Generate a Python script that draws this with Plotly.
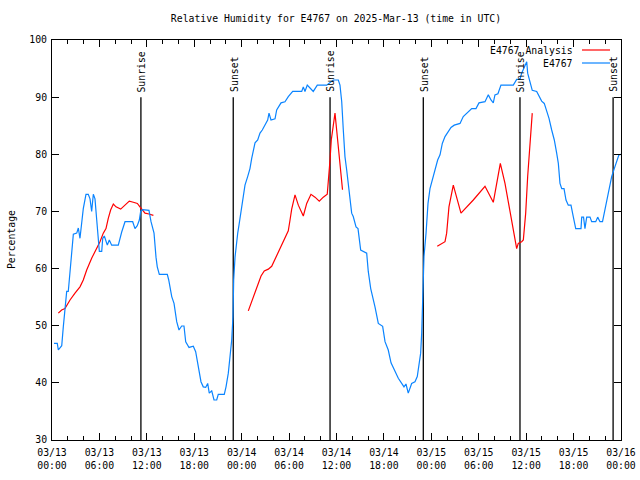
import pandas as pd
import plotly.graph_objects as go

BASE = pd.Timestamp("2025-03-13 00:00")

# Observed relative humidity (hours after 2025-03-13 00:00 UTC, percent)
obs_hours = [0.25, 0.67, 0.80, 1.23, 1.43, 1.64, 1.86, 2.06, 2.28, 2.49, 2.70, 3.13, 3.33, 3.54, 3.76, 3.96,
             4.30, 4.59, 4.81, 5.02, 5.23, 5.44, 5.66, 5.86, 5.99, 6.29, 6.42, 6.62, 6.83, 7.00, 7.25, 7.55,
             8.39, 8.60, 8.82, 9.24, 10.21, 10.50, 10.79, 11.05, 11.22, 11.48, 12.27, 12.53, 12.65, 12.91,
             13.16, 13.32, 13.58, 14.59, 14.77, 14.93, 15.15, 15.44, 15.78, 16.07, 16.41, 16.70, 16.92, 17.34,
             17.88, 18.18, 18.51, 18.85, 19.14, 19.45, 19.70, 19.90, 20.21, 20.50, 20.84, 21.04, 21.80, 22.02,
             22.31, 22.56, 22.74, 22.90, 22.99, 23.16, 23.32, 23.50, 23.66, 23.91, 24.21, 24.42, 24.76, 25.05,
             25.27, 25.69, 26.03, 26.32, 26.61, 26.95, 27.29, 27.46, 27.71, 28.22, 28.43, 28.98, 29.48, 29.90,
             30.46, 31.60, 31.80, 32.01, 32.30, 32.65, 33.06, 33.57, 34.76, 35.59, 36.23, 36.44, 36.66, 36.86,
             37.07, 37.29, 37.49, 37.71, 37.92, 38.12, 38.47, 38.72, 39.06, 39.82, 40.02, 40.33, 40.58, 40.87,
             41.29, 41.84, 42.14, 42.55, 42.90, 43.40, 43.82, 44.25, 44.54, 44.79, 45.08, 45.51, 45.93, 46.22,
             46.48, 46.65, 46.78, 46.91, 46.98, 47.07, 47.33, 47.58, 47.83, 48.12, 48.46, 48.80, 49.10, 49.39,
             49.73, 50.15, 50.49, 50.90, 51.63, 52.04, 52.47, 53.11, 53.65, 54.03, 54.79, 55.21, 55.55, 55.84,
             56.05, 56.43, 56.81, 58.37, 58.80, 59.22, 59.43, 59.85, 60.07, 60.19, 60.48, 60.77, 61.33, 61.53,
             61.96, 62.29, 62.60, 62.89, 63.23, 63.56, 63.86, 64.07, 64.28, 64.50, 64.79, 65.04, 65.33, 65.67,
             65.96, 66.27, 66.94, 67.03, 67.26, 67.44, 67.66, 68.08, 68.29, 68.80, 69.05, 69.34, 69.66, 69.88,
             70.19, 70.48, 70.82, 71.15, 71.45, 71.74, 72.00]
obs_rh = [46.9, 46.9, 45.75, 46.5, 49.8, 52.75, 56.0, 56.0, 59.75, 63.6, 66.0, 66.2, 67.1, 65.3, 68.2, 70.5,
          73.0, 73.0, 72.2, 70.0, 73.0, 72.2, 68.5, 65.0, 63.0, 63.0, 65.3, 65.7, 65.0, 64.1, 65.0, 64.1,
          64.1, 65.3, 66.4, 68.2, 68.2, 67.0, 67.5, 68.5, 70.0, 70.3, 70.2, 68.2, 67.5, 66.2,
          62.0, 60.3, 59.0, 59.0, 58.0, 56.5, 55.1, 53.9, 50.7, 49.25, 49.95, 49.95, 47.2, 46.2,
          46.4, 45.45, 42.5, 40.2, 39.3, 39.2, 39.9, 38.2, 38.6, 37.0, 37.0, 38.0, 38.0, 39.3,
          41.7, 45.2, 47.5, 51.6, 58.0, 62.0, 64.4, 66.2, 67.6, 69.7, 72.3, 74.6, 76.1, 77.5,
          79.3, 82.0, 82.5, 83.7, 84.25, 85.1, 86.0, 87.2, 86.0, 86.2, 87.75, 89.0, 89.2, 90.1,
          91.0, 91.0, 91.8, 91.0, 92.1, 91.6, 91.0, 92.1, 92.1, 93.0, 93.0, 92.1, 89.2, 84.25,
          79.6, 77.25, 74.9, 72.6, 69.7, 69.1, 67.3, 67.0, 63.25, 62.7, 59.5, 56.5, 55.1, 53.3,
          50.4, 49.9, 47.2, 45.75, 43.5, 42.0, 40.8, 39.9, 39.3, 39.8, 38.2, 39.9, 40.2, 41.1,
          43.4, 45.2, 48.7, 53.3, 58.0, 62.1, 66.2, 71.4, 74.0, 75.5, 77.25, 79.0, 79.9, 81.9,
          83.1, 84.0, 84.7, 85.1, 85.4, 86.6, 87.2, 88.0, 88.0, 89.0, 89.2, 90.4, 89.5, 89.0,
          90.4, 90.6, 92.1, 92.1, 93.1, 93.1, 94.2, 95.6, 96.2, 94.2, 92.4, 91.2, 91.0, 90.4,
          89.3, 88.9, 87.75, 86.3, 84.25, 82.5, 80.2, 78.4, 74.9, 74.0, 74.0, 72.0, 71.1, 71.1,
          69.1, 67.0, 67.0, 69.0, 69.0, 67.0, 69.0, 69.0, 68.2, 68.2, 69.0, 68.2, 68.2, 69.7,
          72.0, 74.3, 76.1, 77.5, 78.7, 79.9, 80.0]

# Analysis series (three separate runs; None marks the gaps)
ana_hours = [0.80, 1.22, 1.64, 2.28, 2.91, 3.54, 3.96, 4.39, 5.02, 5.65, 6.07, 6.49, 6.83, 7.12, 7.42, 7.76,
             8.10, 8.69, 9.24, 9.78, 10.29, 10.80, 11.13, 11.47, 11.77, 12.27, 12.83, None,
             24.84, 25.27, 25.60, 26.03, 26.45, 26.86, 27.37, 27.80, 28.22, 28.85, 29.61, 29.90, 30.12, 30.33,
             30.75, 31.17, 31.80, 32.23, 32.77, 33.28, 33.82, 34.33, 34.83, 35.01, 35.18, 35.34, 35.56, 35.81,
             36.02, 36.21, 36.40, 36.57, 36.76, None,
             48.75, 49.73, 49.94, 50.23, 50.78, 51.21, 51.75, 53.31, 54.79, 55.84, 56.27, 56.73, 57.32, 57.74,
             58.17, 58.50, 58.80, 59.00, 59.43, 59.64, 59.94, 60.19, 60.48, 60.77]
ana_rh = [52.2, 52.75, 53.0, 54.5, 55.7, 56.8, 58.0, 59.75, 61.8, 63.5, 64.7, 66.2, 67.0, 68.8, 70.25, 71.3,
          70.8, 70.4, 71.1, 71.8, 71.6, 71.4, 70.8, 70.25, 69.7, 69.55, 69.3, None,
          52.6, 54.2, 55.4, 57.1, 58.7, 59.6, 59.9, 60.4, 61.6, 63.5, 65.6, 66.6, 68.5, 70.4,
          72.9, 71.1, 69.2, 71.4, 73.0, 72.5, 71.8, 72.5, 73.0, 75.5, 79.0, 82.5, 84.8, 87.2,
          84.25, 81.3, 78.8, 76.5, 73.8, None,
          63.9, 64.7, 66.2, 70.8, 74.6, 72.3, 69.7, 72.0, 74.4, 71.6, 74.9, 78.4, 74.9, 71.7,
          68.5, 65.6, 63.5, 64.4, 64.7, 65.0, 69.7, 76.1, 82.5, 87.2]

# Sun events (UTC)
sun_times = ["2025-03-13 11:15", "2025-03-13 22:56", "2025-03-14 11:11",
             "2025-03-14 22:59", "2025-03-15 11:13", "2025-03-15 23:00"]
sun_labels = ["Sunrise", "Sunset", "Sunrise", "Sunset", "Sunrise", "Sunset"]
sun_line_top = 90
y_min, y_max = 30, 100

tick_times = pd.date_range("2025-03-13 00:00", "2025-03-16 00:00", freq="6h")
tick_text = [t.strftime("%m/%d<br>%H:%M") for t in tick_times]
y_ticks = list(range(30, 101, 10))

title = "Relative Humidity for E4767 on 2025-Mar-13 (time in UTC)"
name_ana = "E4767 Analysis"
name_obs = "E4767"

FONT = "DejaVu Sans Mono"
FS = 9.8
BLUE = "#0a84ff"
RED = "#ff0000"


def to_time(hours):
    return [None if h is None else BASE + pd.to_timedelta(h, unit="h") for h in hours]


fig = go.Figure()

for t, lab in zip(sun_times, sun_labels):
    fig.add_trace(go.Scatter(x=[t, t], y=[sun_line_top, y_min], mode="lines",
                             line=dict(color="black", width=1.3), showlegend=False, hoverinfo="skip"))
    fig.add_annotation(x=t, y=sun_line_top, xref="x", yref="y", text=lab, textangle=-90,
                       showarrow=False, xanchor="center", yanchor="bottom", yshift=3, xshift=1,
                       font=dict(family=FONT, size=FS, color="black"))

fig.add_trace(go.Scatter(x=to_time(ana_hours), y=ana_rh, mode="lines", name=name_ana,
                         line=dict(color=RED, width=1.2), connectgaps=False, showlegend=False))
fig.add_trace(go.Scatter(x=to_time(obs_hours), y=obs_rh, mode="lines", name=name_obs,
                         line=dict(color=BLUE, width=1.2), showlegend=False))

# gnuplot-style key: text right-aligned, sample line to its right
for i, (nm, col) in enumerate([(name_ana, RED), (name_obs, BLUE)]):
    ypix = 50 + 13 * i
    yp = 1 - (ypix - 40) / 400
    fig.add_annotation(x=(575 - 52) / 569, y=yp, xref="paper", yref="paper", text=nm,
                       showarrow=False, xanchor="right", yanchor="middle",
                       font=dict(family=FONT, size=FS, color="black"))
    fig.add_shape(type="line", xref="paper", yref="paper",
                  x0=(582 - 52) / 569, x1=(610 - 52) / 569, y0=yp, y1=yp,
                  line=dict(color=col, width=1.2))

fig.add_annotation(x=-0.072, y=0.5, xref="paper", yref="paper", text="Percentage",
                   textangle=-90, showarrow=False, xanchor="center", yanchor="middle",
                   font=dict(family=FONT, size=FS, color="black"))

fig.update_layout(
    width=640, height=480,
    margin=dict(l=52, r=19, t=40, b=40, autoexpand=False),
    paper_bgcolor="white", plot_bgcolor="white",
    font=dict(family=FONT, size=FS, color="black"),
    title=dict(text=title, x=(336 / 640), xanchor="center", y=1 - 19 / 480, yanchor="middle",
               yref="container", font=dict(family=FONT, size=FS, color="black")),
    showlegend=False,
)
fig.update_xaxes(
    range=[tick_times[0], tick_times[-1]], tickmode="array", tickvals=tick_times, ticktext=tick_text,
    ticks="inside", ticklen=7, tickcolor="black", tickwidth=1, automargin=False, ticklabelstandoff=3,
    showline=True, linecolor="black", linewidth=1, mirror="allticks", showgrid=False, zeroline=False,
    minor=dict(ticks="inside", ticklen=4, tickcolor="black", dtick=2 * 3600 * 1000,
               tick0="2025-03-13", showgrid=False),
)
fig.update_yaxes(
    range=[y_min, y_max], tickmode="array", tickvals=y_ticks, automargin=False,
    ticks="inside", ticklen=7, tickcolor="black", tickwidth=1, ticklabelstandoff=2,
    showline=True, linecolor="black", linewidth=1, mirror="allticks", showgrid=False, zeroline=False,
)

fig.write_html("out.html", config={"displayModeBar": False},
               post_script="document.body.style.margin='0';document.body.style.padding='0';")
